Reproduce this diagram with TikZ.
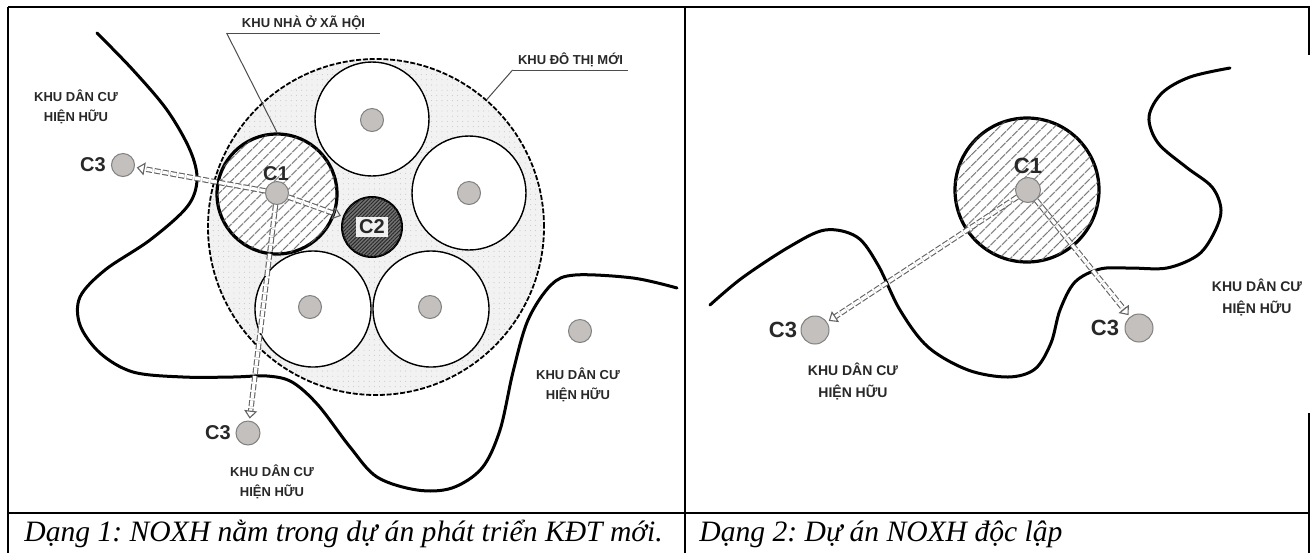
\documentclass[tikz,border=0pt]{standalone}
\usepackage{fontspec}
\setmainfont{Liberation Serif}
\newfontfamily\labfont{Liberation Sans}
\usetikzlibrary{arrows.meta,patterns.meta}
\frenchspacing

\definecolor{dotgray}{RGB}{196,192,189}
\definecolor{hatchgray}{RGB}{95,95,95}
\definecolor{roadgray}{RGB}{100,100,100}
\definecolor{labgray}{RGB}{40,40,40}

\begin{document}
\begin{tikzpicture}[x=0.5pt,y=-0.5pt,
  frame/.style={line width=1pt},
  terrain/.style={line width=1.5pt, line cap=round, line join=round},
  zone/.style={circle, draw, line width=0.7pt, fill=white, inner sep=0pt, minimum size=#1},
  newtown/.style={circle, draw, line width=0.9pt, dash pattern=on 2.5pt off 0.9pt,
    inner sep=0pt, minimum size=168pt, preaction={fill=black!5},
    pattern={Dots[distance=2.6pt,radius=0.22pt]}, pattern color=black!30},
  social/.style={circle, draw, line width=1.6pt, inner sep=0pt, minimum size=#1,
    fill=white, postaction={pattern={Lines[angle=45,distance=4pt,line width=0.55pt]},
    pattern color=hatchgray}},
  centre/.style={circle, draw, line width=1pt, inner sep=0pt, minimum size=30pt,
    fill=black!55, postaction={pattern={Lines[angle=45,distance=1.3pt,line width=0.45pt]},
    pattern color=black!85}},
  dot/.style={circle, draw=black!50, line width=0.5pt, fill=dotgray, inner sep=0pt,
    minimum size=#1},
  dot/.default=11.5pt,
  road/.style={draw=roadgray, line width=0.55pt, double=white, double distance=1.6pt,
    dash pattern=on 3pt off 1.1pt, shorten >=1pt,
    -{Triangle[open, length=4pt, width=6.5pt, line width=0.55pt]}},
  clab/.style={font=\labfont\bfseries\fontsize{10}{12}\selectfont, text=labgray, inner sep=0pt},
  clabB/.style={font=\labfont\bfseries\fontsize{11}{13}\selectfont, text=labgray, inner sep=0pt},
  lab/.style={font=\labfont\bfseries\fontsize{6.5}{10}\selectfont, text=labgray,
    align=center, inner sep=0pt},
  labB/.style={font=\labfont\bfseries\fontsize{7}{11}\selectfont, text=labgray,
    align=center, inner sep=0pt},
  leader/.style={draw=black!70, line width=0.5pt},
  caption/.style={font=\fontsize{14.8}{17}\selectfont\itshape, anchor=base west, inner sep=0pt}
]
\useasboundingbox (0,0) rectangle (1312,553);
\fill[white] (0,0) rectangle (1312,553);

% ---------- Dạng 1: housing inside a new urban area ----------
\node[newtown] (kdt) at (376,227) {};

\node[zone=57pt] (z1) at (372,119) {};
\node[zone=57pt] (z2) at (469,193) {};
\node[zone=58pt] (z3) at (313,309) {};
\node[zone=58pt] (z4) at (431,309) {};
\node[social=60pt] (c1z) at (277,194) {};
\node[centre] (c2) at (372,227) {};
\node[clab, fill=black!6, inner xsep=1.5pt, inner ysep=1.5pt] (c2t) at (c2) {C2};

% existing settlement boundary
\draw[terrain] plot[smooth, tension=0.55] coordinates {
  (97,33) (133,70) (167,110) (190,150) (197,180) (187,207) (150,240) (105,270)
  (80,297) (80,325) (100,353) (133,372) (183,377) (233,377) (267,376) (292,382)
  (318,405) (350,447) (377,477) (417,490) (452,488) (482,468) (500,430) (513,372)
  (528,320) (551,285) (575,275) (633,278) (677,288)};

\node[dot] (d1) at (372,120) {};
\node[dot] (d2) at (469,193) {};
\node[dot] (d3) at (310,307) {};
\node[dot] (d4) at (430,307) {};
\node[dot] (c1d) at (277,193) {};
\node[dot] (c3a) at (123,165) {};
\node[dot=12pt] (c3b) at (248,433) {};
\node[dot] (d5) at (580,331) {};

\draw[road] (c1d) -- (c3a);
\draw[road] (c1d) -- (c2);
\draw[road] (c1d) -- (c3b);

\node[clab] (c1t) at (276,174) {C1};
\node[clab] (c3at) at (93,165) {C3};
\node[clab] (c3bt) at (218,433) {C3};

\node[lab] (la1) at (76,107) {KHU DÂN CƯ\\HIỆN HỮU};
\node[lab] (la2) at (272,482) {KHU DÂN CƯ\\HIỆN HỮU};
\node[lab] (la3) at (578,385) {KHU DÂN CƯ\\HIỆN HỮU};

\node[lab, anchor=south, minimum width=76.5pt, inner ysep=1.6pt] (nha) at (303.5,33) {KHU NHÀ Ở XÃ HỘI};
\draw[leader] (nha.south west) -- (nha.south east);
\draw[leader] (nha.south west) -- (c1z.north);

\node[lab, anchor=south, minimum width=57.5pt, inner ysep=1.6pt] (dt) at (570.5,70) {KHU ĐÔ THỊ MỚI};
\draw[leader] (dt.south west) -- (dt.south east);
\draw[leader] (dt.south west) -- (kdt.49);

% ---------- Dạng 2: stand-alone housing project ----------
\node[social=72pt] (c1zb) at (1027,190) {};

\draw[terrain] plot[smooth, tension=0.55] coordinates {
  (710,305) (742,278) (789,247) (825,230) (857,237) (878,265) (900,310) (928,347)
  (968,370) (1008,377) (1035,369) (1051,343) (1060,310) (1075,282) (1100,269)
  (1130,268) (1167,268) (1198,255) (1214,233) (1221,210) (1212,187) (1186,167)
  (1158,143) (1149,117) (1162,93) (1190,77) (1230,68)};

\node[dot=12.5pt] (c1db) at (1028,190) {};
\node[dot=14pt] (c3c) at (815,330) {};
\node[dot=14pt] (c3d) at (1139,328) {};

\draw[road] (c1db) -- (c3c);
\draw[road] (c1db) -- (c3d);

\node[clabB] (c1tb) at (1028,166) {C1};
\node[clabB] (c3ct) at (783,330) {C3};
\node[clabB] (c3dt) at (1105,328) {C3};

\node[labB] (lb1) at (853,381) {KHU DÂN CƯ\\HIỆN HỮU};
\node[labB] (lb2) at (1257,297) {KHU DÂN CƯ\\HIỆN HỮU};

% ---------- table frame and captions ----------
\draw[frame] (8,7) -- (1310,7);
\draw[frame] (8,6.5) -- (8,553);
\draw[frame] (684.5,7) -- (684.5,553);
\draw[frame] (1309,6.5) -- (1309,55);
\draw[frame] (1309,413) -- (1309,553);
\draw[frame] (8,512.7) -- (1309,512.7);

\node[caption] (cap1) at (24,541) {Dạng 1: NOXH nằm trong dự án phát triển KĐT mới.};
\node[caption] (cap2) at (699,541) {Dạng 2: Dự án NOXH độc lập};
\end{tikzpicture}
\end{document}
